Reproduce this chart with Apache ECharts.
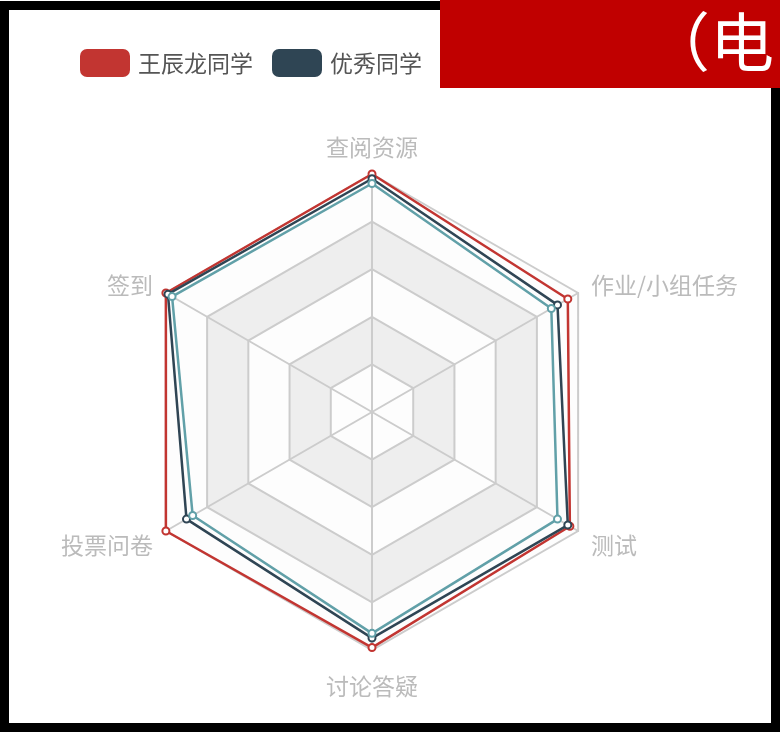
<!DOCTYPE html>
<html>
<head>
<meta charset="utf-8">
<script src="https://cdn.jsdelivr.net/npm/echarts@6/dist/echarts.min.js"></script>
<style>
  html, body { margin: 0; padding: 0; background: #fff; }
  #chart { width: 780px; height: 732px; }
</style>
</head>
<body>
<div id="chart"></div>
<script>
// 雷达图指标（逆时针，从顶部开始）
const indicators = ['查阅资源', '签到', '投票问卷', '讨论答疑', '测试', '作业/小组任务']
const maxValue = 100
const seriesNames = ['王辰龙同学', '优秀同学', '班级平均']
const wangValues = [100, 100, 100, 99, 96, 95]
const excellentValues = [98, 99, 90, 95, 95, 90]
const averageValues = [96, 97, 87, 93, 90, 87]

// 各指标名称的位置微调样式
const nameStyleKey = {
  '查阅资源': 't',
  '签到': 'u',
  '作业/小组任务': 'u',
  '投票问卷': 'l',
  '测试': 'l',
  '讨论答疑': 'b'
}

const chart = echarts.init(document.getElementById('chart'))

const option = {
  backgroundColor: '#fff',
  color: ['#c23531', '#2f4554', '#61a0a8'],
  legend: {
    data: seriesNames,
    left: 75,
    top: 44,
    itemWidth: 50,
    itemHeight: 28,
    itemGap: 19,
    icon: 'roundRect',
    textStyle: {
      fontSize: 23,
      color: '#555',
      fontFamily: 'Noto Sans CJK SC',
      padding: [0, 0, 0, 3]
    }
  },
  radar: {
    center: [372, 412],
    radius: 238,
    splitNumber: 5,
    nameGap: 15,
    axisName: {
      color: '#bbb',
      fontSize: 23,
      fontFamily: 'Noto Sans CJK SC',
      formatter: name => `{${nameStyleKey[name]}|${name}}`,
      rich: {
        t: { fontSize: 23, color: '#bbb', padding: [0, 0, 0, 0] },
        u: { fontSize: 23, color: '#bbb', padding: [0, 0, 0, 0] },
        l: { fontSize: 23, color: '#bbb', padding: [14, 0, 0, 0] },
        b: { fontSize: 23, color: '#bbb', padding: [10, 0, 0, 0] }
      }
    },
    indicator: indicators.map(name => ({ name, max: maxValue })),
    splitLine: {
      lineStyle: { color: '#ccc', width: 2 }
    },
    axisLine: {
      lineStyle: { color: '#ccc', width: 2 }
    },
    splitArea: {
      areaStyle: {
        color: ['rgba(250,250,250,0.3)', 'rgba(200,200,200,0.3)']
      }
    }
  },
  series: [
    {
      type: 'radar',
      symbol: 'emptyCircle',
      symbolSize: 7,
      lineStyle: { width: 2.5 },
      data: [
        { name: seriesNames[0], value: wangValues },
        { name: seriesNames[1], value: excellentValues },
        { name: seriesNames[2], value: averageValues }
      ]
    }
  ],
  graphic: [
    // 外框
    {
      type: 'rect',
      z: 100,
      shape: { x: 4.5, y: 5.5, width: 771, height: 722 },
      style: { fill: 'none', stroke: '#000', lineWidth: 9 }
    },
    // 右上角红色遮挡块
    {
      type: 'rect',
      z: 110,
      shape: { x: 440, y: 0, width: 340, height: 88 },
      style: { fill: '#c00000' }
    },
    {
      type: 'text',
      z: 120,
      style: {
        x: 646,
        y: 42,
        text: '（电',
        fill: '#fff',
        fontSize: 64,
        fontFamily: 'Noto Sans CJK SC',
        verticalAlign: 'middle'
      }
    }
  ]
}

chart.setOption(option)
</script>
</body>
</html>
